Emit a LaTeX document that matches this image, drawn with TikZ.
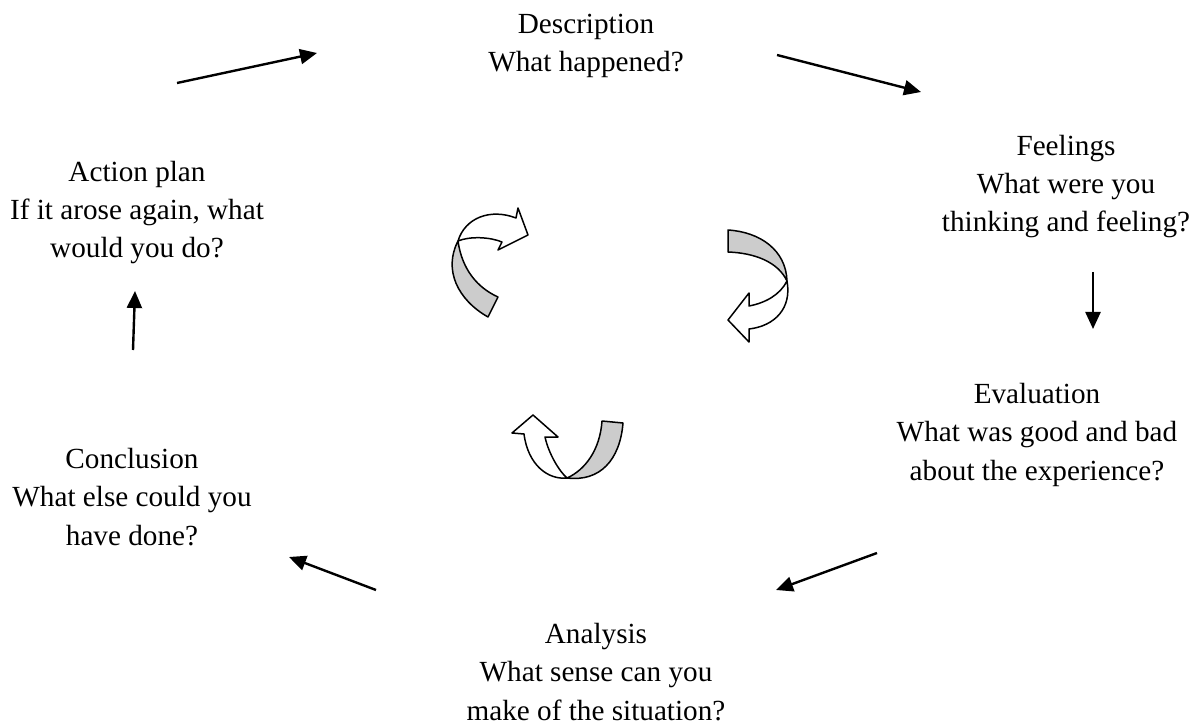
\documentclass[tikz,border=0pt]{standalone}
\usepackage{fontspec}
\setmainfont{Liberation Serif}
\usetikzlibrary{arrows.meta}
\tikzset{
  lbl/.style={align=center, inner sep=0pt, anchor=base, font=\fontsize{14.6}{19.15}\selectfont},
  flow/.style={line width=1.2pt, -{Triangle[length=8.5pt,width=7.5pt]}},
  ribbon/.style={draw=black, line width=0.75pt, line join=round},
  backside/.style={ribbon, fill=black!20},
  frontside/.style={ribbon, fill=white}
}
\begin{document}
\begin{tikzpicture}[x=0.5pt,y=-0.5pt]
\useasboundingbox (0,0) rectangle (1194,727);

% labels (anchor = baseline of the last line)
\node[lbl] (desc) at (586,72) {Description\\What happened?};
\node[lbl] (feel) at (1066,232) {Feelings\\What were you\\thinking and feeling?};
\node[lbl] (eval) at (1037,480) {Evaluation\\What was good and bad\\about the experience?};
\node[lbl] (anal) at (596,720) {Analysis\\What sense can you\\make of the situation?};
\node[lbl] (concl) at (132,545) {Conclusion\\What else could you\\have done?};
\node[lbl] (act) at (137,258) {Action plan\\If it arose again, what\\would you do?};

% straight arrows
\coordinate (a1s) at (177,83);  \coordinate (a1e) at (317,53);
\coordinate (a2s) at (777,55);  \coordinate (a2e) at (921,92);
\coordinate (a3s) at (1093,272); \coordinate (a3e) at (1093,329);
\coordinate (a4s) at (877,553); \coordinate (a4e) at (776,590);
\coordinate (a5s) at (376,590); \coordinate (a5e) at (289,557);
\coordinate (a6s) at (133,350); \coordinate (a6e) at (135,291);
\draw[flow] (a1s) -- (a1e);
\draw[flow] (a2s) -- (a2e);
\draw[flow] (a3s) -- (a3e);
\draw[flow] (a4s) -- (a4e);
\draw[flow] (a5s) -- (a5e);
\draw[flow] (a6s) -- (a6e);

% curved arrow, upper left
\draw[backside] (458,241) .. controls (462,270) and (478,288) .. (498,297)
  -- (488,317) .. controls (458,300) and (443,270) .. (458,241) -- cycle;
\draw[frontside] (458,241) .. controls (470,236) and (490,237) .. (502,242)
  -- (498,250) -- (528,235) -- (518,208) -- (516,218)
  .. controls (490,208) and (465,218) .. (458,241) -- cycle;

% curved arrow, right
\draw[backside] (728,230) .. controls (760,232) and (786,250) .. (787,281)
  .. controls (778,262) and (755,253) .. (728,252) -- cycle;
\draw[frontside] (787,281) .. controls (792,308) and (775,326) .. (749,329)
  -- (749,342) -- (728,320) -- (749,293) -- (749,306)
  .. controls (765,303) and (780,295) .. (787,281) -- cycle;

% curved arrow, bottom
\draw[backside] (567,478) .. controls (600,482) and (620,460) .. (623,423)
  -- (602,421) .. controls (600,450) and (585,470) .. (567,478) -- cycle;
\draw[frontside] (524,434) .. controls (528,465) and (548,480) .. (567,478)
  .. controls (560,472) and (549,455) .. (545,437)
  -- (558,437) -- (533,415) -- (512,433) -- cycle;
\end{tikzpicture}
\end{document}
